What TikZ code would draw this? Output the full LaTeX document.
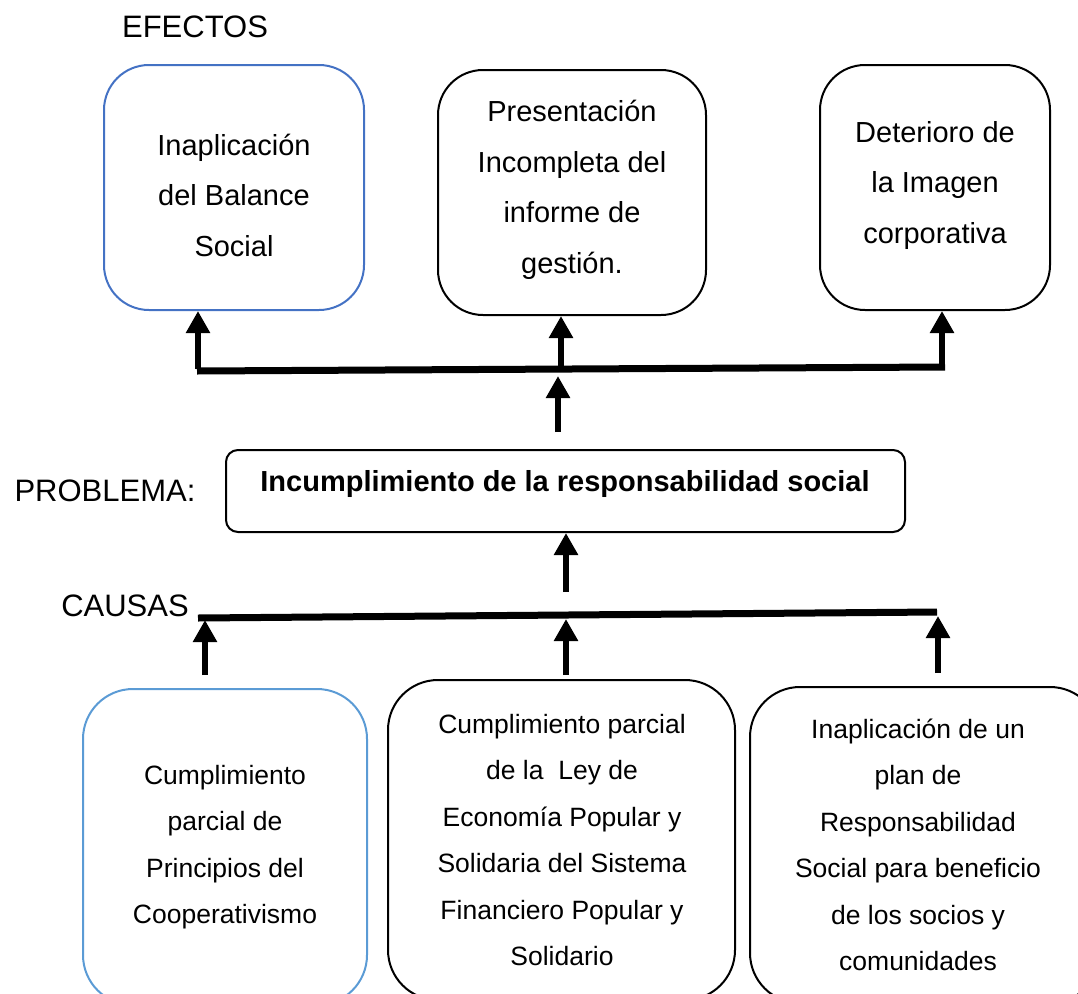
\documentclass[tikz,border=0pt]{standalone}
\usepackage{fontspec}
\setmainfont{Liberation Sans}
\usetikzlibrary{arrows.meta}
\definecolor{topblue}{HTML}{4472C4}
\definecolor{botblue}{HTML}{5B9BD5}
\tikzset{
  box/.style={draw, line width=2pt, rounded corners=45pt, inner sep=0pt},
  lbl/.style={font=\fontsize{31}{36}\selectfont, inner sep=0pt},
  toptxt/.style={align=center, font=\fontsize{29}{50.5}\selectfont, inner sep=0pt},
  bottxt/.style={align=center, font=\fontsize{26.5}{46.5}\selectfont, inner sep=0pt},
  uparrow/.style={line width=6.5pt, -{Triangle[width=23pt,length=22pt]}},
  bar/.style={line width=7pt}
}
\begin{document}
\begin{tikzpicture}[x=1pt,y=-1pt]
\useasboundingbox (0,0) rectangle (1078,993);
\clip (0,0) rectangle (1078,993);
% labels
\node[lbl] (lefe) at (195,27) {EFECTOS};
\node[lbl] (lprob) at (105,491) {PROBLEMA:};
\node[lbl] (lcau) at (125,606) {CAUSAS};
% effect boxes
\node[box, draw=topblue, minimum width=260pt, minimum height=245pt] (e1) at (234,187.5) {};
\node[toptxt] (t1) at (234,195) {Inaplicación\\del Balance\\Social};
\node[box, minimum width=268pt, minimum height=245pt] (e2) at (572,192.5) {};
\node[toptxt] (t2) at (572,190) {Presentación\\Incompleta del\\informe de\\gestión.};
\node[box, minimum width=230pt, minimum height=245pt] (e3) at (935,187.5) {};
\node[toptxt] (t3) at (935,185) {Deterioro de\\la Imagen\\corporativa};
% problem
\node[draw, line width=2pt, rounded corners=12pt, minimum width=679pt, minimum height=82pt, inner sep=0pt] (pb) at (565.5,491) {};
\node[inner sep=0pt, font=\fontsize{29}{34}\selectfont\bfseries] (pt) at (565,484) {Incumplimiento de la responsabilidad social};
% cause boxes
\node[box, draw=botblue, rounded corners=50pt, minimum width=284pt, minimum height=316pt] (c1) at (225,847) {};
\node[bottxt] (ct1) at (225,847) {Cumplimiento\\parcial de\\Principios del\\Cooperativismo};
\node[box, rounded corners=50pt, minimum width=347pt, minimum height=320pt] (c2) at (561.5,840) {};
\node[bottxt] (ct2) at (562,840) {Cumplimiento parcial\\de la \ Ley de\\Economía Popular y\\Solidaria del Sistema\\Financiero Popular y\\Solidario};
\node[box, rounded corners=50pt, minimum width=350pt, minimum height=316pt] (c3) at (925,845) {};
\node[bottxt] (ct3) at (918,845) {Inaplicación de un\\plan de\\Responsabilidad\\Social para beneficio\\de los socios y\\comunidades};
% effect connectors
\coordinate (eL) at (198,371);
\coordinate (eM) at (561,369);
\coordinate (eR) at (942,367);
\coordinate (pU) at (558,432);
\draw[bar] ([xshift=-1pt]eL) -- ([xshift=3pt]eR);
\draw[uparrow] ([yshift=2pt]eL) -- (eL |- e1.south);
\draw[uparrow] (eM) -- (eM |- e2.south);
\draw[uparrow] ([yshift=3pt]eR) -- (eR |- e3.south);
\draw[uparrow] (pU) -- ([yshift=-7pt]pU |- eM);
% cause connectors
\coordinate (cL) at (198,618);
\coordinate (cR) at (937,612);
\coordinate (pD) at (566,592);
\draw[bar] (cL) -- (cR);
\draw[uparrow] (pD) -- (pD |- pb.south);
\coordinate (a1) at (205,675);
\coordinate (a2) at (566,675);
\coordinate (a3) at (938,673);
\coordinate (b1) at (205,620);
\coordinate (b2) at (566,619);
\coordinate (b3) at (938,616);
\draw[uparrow] (a1) -- (b1);
\draw[uparrow] (a2) -- (b2);
\draw[uparrow] (a3) -- (b3);
\end{tikzpicture}
\end{document}
